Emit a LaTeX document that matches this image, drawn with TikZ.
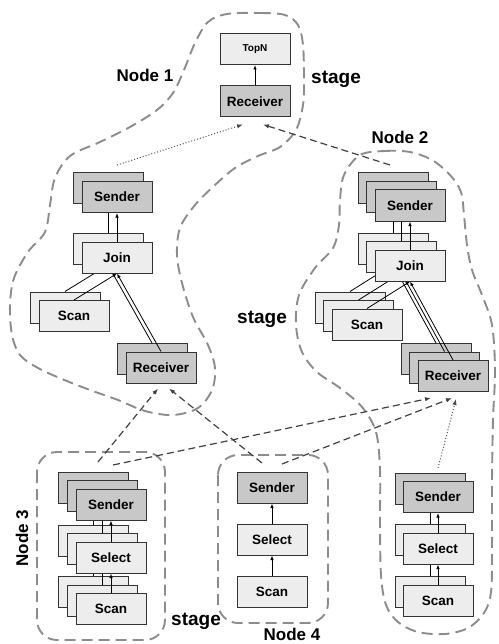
\documentclass[tikz,border=0pt]{standalone}
\usepackage{fontspec}
\setmainfont{Liberation Sans}
\usetikzlibrary{arrows.meta}
\definecolor{opfill}{HTML}{EDEDED}
\definecolor{xfill}{HTML}{C8C8C8}
\definecolor{regiongray}{HTML}{8C8C8C}
\definecolor{edgecol}{HTML}{333333}
\newcommand{\frontonly}[2]{\ifnum#1=0 #2\fi}
\begin{document}
\begin{tikzpicture}[x=1pt,y=-1pt,
  op/.style={draw=edgecol, line width=1pt, fill=opfill, minimum width=70pt, minimum height=31pt, inner sep=0pt, font=\bfseries\fontsize{13.5}{15}\selectfont},
  xop/.style={op, fill=xfill},
  flow/.style={draw=black, line width=0.8pt, -{Latex[length=4.5pt,width=3.5pt]}},
  region/.style={draw=regiongray, line width=1.9pt, dash pattern=on 11pt off 6pt},
  link/.style={draw=black!75, line width=1.2pt, dash pattern=on 7pt off 4pt, -{Latex[length=6pt,width=4.5pt]}},
  dotlink/.style={draw=black!70, line width=1pt, dash pattern=on 1pt off 2pt, -{Latex[length=6pt,width=4.5pt]}},
  lbl/.style={font=\bfseries\fontsize{17}{19}\selectfont, inner sep=0pt},
  stg/.style={font=\bfseries\fontsize{19}{21}\selectfont, inner sep=0pt}
]
\useasboundingbox (0,0) rectangle (498,644);

% ---- stage / node regions ----
\draw[region] plot[smooth cycle, tension=0.55] coordinates {
  (227,14) (260,13) (285,15) (298,25) (303,45) (304,80) (303,105) (296,130)
  (280,147) (258,156) (235,168) (215,185) (195,205) (180,228) (177,255)
  (182,283) (193,317) (208,345) (215,368) (212,390) (198,408) (173,415)
  (145,411) (118,400) (90,390) (62,379) (38,368) (20,355) (12,335) (10,305)
  (14,278) (28,252) (45,232) (50,205) (55,178) (70,156) (100,142) (130,127)
  (157,110) (173,93) (184,70) (195,43) (208,22)};
\draw[region] plot[smooth cycle, tension=0.55] coordinates {
  (360,155) (385,151) (410,152) (432,160) (450,175) (461,192) (464,215)
  (467,245) (472,270) (482,295) (492,325) (495,370) (493,420) (492,480)
  (492,550) (491,592) (484,613) (468,628) (445,634) (418,632) (398,622)
  (386,605) (381,575) (380,520) (380,470) (376,432) (362,407) (340,388)
  (317,372) (302,352) (296,325) (299,295) (315,268) (333,248) (339,225)
  (340,200) (344,175)};
\draw[region, rounded corners=20pt] (37,452) rectangle (165,640);
\draw[region, rounded corners=20pt] (218,455) rectangle (328,623);

% ---- labels ----
\node[lbl] (l1) at (145,75) {Node 1};
\node[stg] (st1) at (336,79) {stage};
\node[lbl] (l2) at (400,137) {Node 2};
\node[stg] (st2) at (262,319) {stage};
\node[lbl, rotate=90] (l3) at (22,538) {Node 3};
\node[stg] (st3) at (196,621) {stage};
\node[lbl] (l4) at (292,634) {Node 4};

% ---- top stage ----
\node[op, font=\bfseries\fontsize{10}{12}\selectfont] (topn) at (255,49) {TopN};
\node[xop] (trcv) at (255,101.5) {Receiver};
\draw[flow] (trcv.north) -- (topn.south);

% ---- Node 1 fragment (2 instances) ----
\foreach \k in {1,0} {
  \begin{scope}[shift={(-9*\k,-8.5*\k)}]
    \node[xop] (a1s\k) at (117,197) {\frontonly{\k}{Sender}};
    \node[op] (a1j\k) at (117,257.5) {\frontonly{\k}{Join}};
    \node[op] (a1c\k) at (74,316) {\frontonly{\k}{Scan}};
    \node[xop] (a1r\k) at (161,367.5) {\frontonly{\k}{Receiver}};
    \draw[flow] (a1j\k.north) -- (a1s\k.south);
    \draw[flow] (a1c\k.north) -- (a1j\k.south);
    \draw[flow] (a1r\k.north) -- (a1j\k.south);
  \end{scope}
}

% ---- Node 2 fragment (3 instances) ----
\foreach \k in {2,1,0} {
  \begin{scope}[shift={(-8.5*\k,-8.5*\k)}]
    \node[xop] (a2s\k) at (410,205.5) {\frontonly{\k}{Sender}};
    \node[op] (a2j\k) at (410,265.5) {\frontonly{\k}{Join}};
    \node[op] (a2c\k) at (367,324.5) {\frontonly{\k}{Scan}};
    \node[xop] (a2r\k) at (453,376) {\frontonly{\k}{Receiver}};
    \draw[flow] (a2j\k.north) -- (a2s\k.south);
    \draw[flow] (a2c\k.north) -- (a2j\k.south);
    \draw[flow] (a2r\k.north) -- (a2j\k.south);
  \end{scope}
}

% ---- Node 3 fragment (3 instances) ----
\foreach \k in {2,1,0} {
  \begin{scope}[shift={(-9*\k,-8.5*\k)}]
    \node[xop] (a3s\k) at (111,504.5) {\frontonly{\k}{Sender}};
    \node[op] (a3l\k) at (111,557.5) {\frontonly{\k}{Select}};
    \node[op] (a3c\k) at (111,609) {\frontonly{\k}{Scan}};
    \draw[flow] (a3l\k.north) -- (a3s\k.south);
    \draw[flow] (a3c\k.north) -- (a3l\k.south);
  \end{scope}
}

% ---- Node 4 fragment ----
\node[xop] (a4s) at (272,487.5) {Sender};
\node[op] (a4l) at (272,539.5) {Select};
\node[op] (a4c) at (272,591.5) {Scan};
\draw[flow] (a4l.north) -- (a4s.south);
\draw[flow] (a4c.north) -- (a4l.south);

% ---- right fragment on Node 2 (2 instances) ----
\foreach \k in {1,0} {
  \begin{scope}[shift={(-8*\k,-8.5*\k)}]
    \node[xop] (a5s\k) at (438,497) {\frontonly{\k}{Sender}};
    \node[op] (a5l\k) at (438,548.5) {\frontonly{\k}{Select}};
    \node[op] (a5c\k) at (438,600.5) {\frontonly{\k}{Scan}};
    \draw[flow] (a5l\k.north) -- (a5s\k.south);
    \draw[flow] (a5c\k.north) -- (a5l\k.south);
  \end{scope}
}

% ---- exchanges between fragments ----
\coordinate (c1) at (117,165);
\coordinate (c2) at (390,165);
\coordinate (c3) at (98,462);
\coordinate (c4) at (262,463);
\coordinate (c5) at (113,465);
\coordinate (c6) at (282,464);
\coordinate (c7) at (438,468);

\draw[dotlink] (c1) -- ([xshift=-12pt,yshift=-7pt]trcv.south);
\draw[link] (c2) -- ([xshift=8pt,yshift=-7pt]trcv.south);
\draw[link] (c3) -- ([xshift=-3pt,yshift=-5pt]a1r0.south);
\draw[link] (c4) -- ([xshift=8pt,yshift=-5pt]a1r0.south);
\draw[link] (c5) -- ([xshift=-22pt,yshift=-6pt]a2r0.south);
\draw[link] (c6) -- ([xshift=-1pt,yshift=-6pt]a2r0.south);
\draw[dotlink] (c7) -- ([xshift=3pt,yshift=-7pt]a2r0.south);
\end{tikzpicture}
\end{document}
